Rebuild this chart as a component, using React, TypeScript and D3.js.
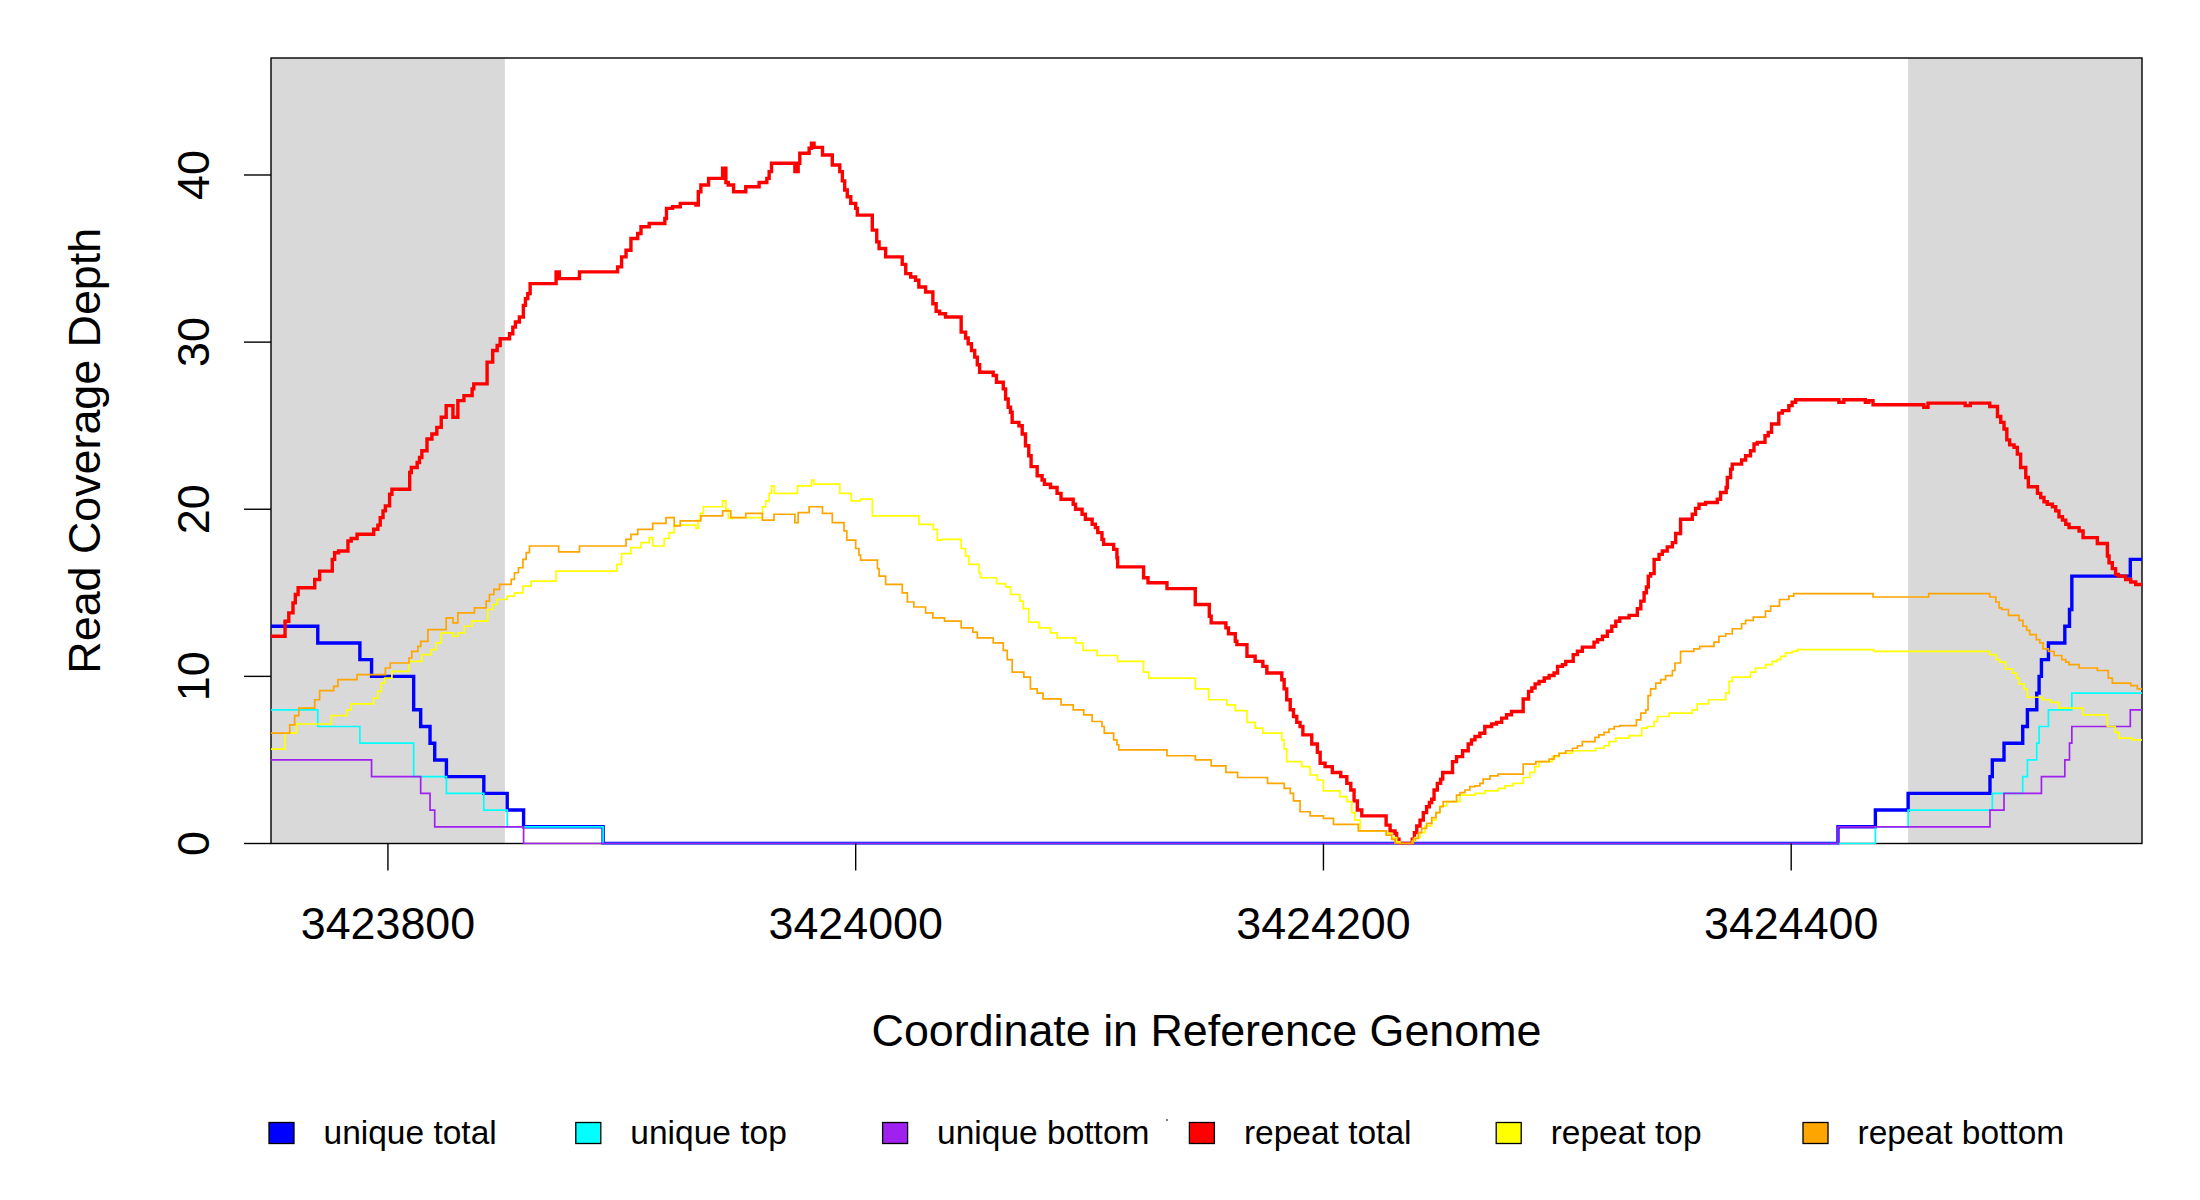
import React from "react";
import * as d3 from "d3";

// Genome window (reference coordinates)
const regionStart = 3423750;
const regionEnd = 3424550;
const shadedRegions: [number, number][] = [
  [3423750, 3423850],
  [3424450, 3424550],
];
const xTicks = [3423800, 3424000, 3424200, 3424400];
const yTicks = [0, 10, 20, 30, 40];
const yMax = 47;

// Series: [offset from regionStart, depth] (step functions)
const uniqueTotal: [number, number][] = [
  [0, 13], [20, 12], [38, 11], [43, 10], [61, 8], [64, 7], [68, 6], [70, 5], [75, 4], [91, 3], [101, 2], [108, 1], [142, 0],
  [670, 1], [686, 2], [700, 3], [735, 4], [736, 5], [741, 6], [749, 7], [751, 8], [755, 9], [756, 10], [757, 11], [760, 12],
  [767, 13], [769, 14], [770, 16], [795, 17],
];
const uniqueTop: [number, number][] = [
  [0, 8], [20, 7], [38, 6], [61, 4], [75, 3], [91, 2], [101, 1], [142, 0],
  [686, 1], [700, 2], [736, 3], [749, 4], [751, 5], [755, 6], [756, 7], [760, 8], [770, 9],
];
const uniqueBottom: [number, number][] = [
  [0, 5], [43, 4], [64, 3], [68, 2], [70, 1], [108, 0],
  [670, 1], [735, 2], [741, 3], [757, 4], [767, 5], [769, 6], [770, 7], [795, 8],
];
const repeatTotal: [number, number][] = [
  [0, 12.4], [6, 13.3], [7.6, 13.8], [9.4, 14.4], [10.4, 14.9], [11.6, 15.3], [18.7, 15.8], [20.8, 16.3], [26.2, 17], [27.2, 17.4],
  [28.9, 17.5], [32.9, 18.1], [34.3, 18.25], [36.8, 18.5], [43.9, 18.8], [45.7, 19.05], [46.7, 19.5], [47.9, 19.9], [48.9, 20.2],
  [50.7, 20.9], [51.7, 21.2], [59.3, 22.2], [60, 22.5], [62.5, 22.8], [63.5, 23.1], [64.5, 23.5], [66.7, 24.2], [68.8, 24.5],
  [70.9, 24.9], [72.8, 25.5], [74.9, 26.2], [77.8, 25.5], [79.9, 26.5], [82.5, 26.8], [86, 27.2], [86.7, 27.5], [92.4, 28.8],
  [94.8, 29.5], [96.7, 29.8], [98, 30.2], [102, 30.5], [103.4, 30.9], [104.5, 31.2], [106.2, 31.5], [107.9, 32.2], [108.8, 32.6],
  [109.8, 32.9], [110.8, 33.5], [121.9, 34.2], [123.3, 33.8], [131.9, 34.2], [148.2, 34.5], [149.9, 35.1], [151.8, 35.5],
  [153.9, 36.2], [156.8, 36.5], [158.2, 36.9], [161.7, 37.1], [168.4, 37.4], [169.1, 38], [171.7, 38.1], [175, 38.3], [181.7, 38.2],
  [182.7, 39], [183.8, 39.4], [187.1, 39.8], [193.1, 40.4], [194.5, 39.55], [195.5, 39.4], [197.8, 39], [203, 39.3], [208.7, 39.55],
  [212, 39.8], [213, 40.2], [214, 40.7], [224, 40.2], [225.4, 40.7], [226.1, 41.3], [230.1, 41.6], [231.1, 41.9], [232.2, 41.65],
  [235.8, 41.2], [240, 40.6], [243.2, 40.2], [244.3, 39.65], [245.3, 39.1], [246.4, 38.7], [247.9, 38.3], [250, 38], [250.7, 37.6],
  [257.1, 36.7], [259, 36], [260, 35.6], [262.8, 35.1], [269.9, 34.65], [271.4, 34.1], [273.5, 33.9], [275.6, 33.7], [277, 33.3],
  [279.9, 33], [283, 32.3], [284.4, 31.85], [285.9, 31.7], [288.4, 31.5], [295.1, 30.6], [297, 30.25], [298.1, 29.9], [299.5, 29.5],
  [300.9, 29.1], [302, 28.65], [303, 28.2], [308.8, 28], [310.2, 27.6], [313.1, 27.2], [314.1, 26.6], [315.2, 26.1], [316.2, 25.8],
  [316.9, 25.2], [319.8, 25], [321.2, 24.5], [322.6, 23.8], [324, 23.2], [325, 22.55], [327.6, 22], [329.7, 21.75], [330.7, 21.5],
  [333.3, 21.3], [336.1, 20.95], [337.8, 20.6], [343, 20.3], [344, 20], [346.8, 19.7], [348.2, 19.4], [351.1, 19.1], [352.5, 18.9],
  [353.5, 18.6], [355.3, 18.2], [356, 17.9], [360.3, 17.6], [361.7, 17.1], [362, 16.55], [373.1, 15.9], [375, 15.6], [383.1, 15.25],
  [395.2, 14.3], [401.2, 13.6], [402, 13.2], [408.3, 12.9], [409.4, 12.55], [412.3, 12.1], [413, 11.9], [417.3, 11.2], [420.8, 10.9],
  [424.1, 10.6], [425.8, 10.2], [432.2, 9.8], [433.2, 9.25], [434.3, 8.6], [435.8, 8], [437.2, 7.6], [438.6, 7.25], [440, 7],
  [441.2, 6.5], [445, 5.95], [447.4, 5.45], [448.6, 4.8], [450.7, 4.6], [453.8, 4.25], [457.4, 4], [460, 3.6], [461.7, 3.2],
  [463.1, 2.55], [464.5, 2], [466.4, 1.65], [476.8, 1.1], [478.5, 0.75], [480.6, 0.6], [481.3, 0.25], [482.3, 0], [488, 0.25],
  [488.9, 0.65], [489.9, 1.05], [491.3, 1.4], [492.7, 1.85], [494.1, 2.2], [495.3, 2.45], [496.3, 2.65], [497.3, 3.2], [498.7, 3.6],
  [500.1, 3.85], [501, 4.25], [505.2, 4.9], [506.9, 5.2], [509.5, 5.55], [511.9, 5.95], [513.3, 6.2], [514.8, 6.4], [516.9, 6.6],
  [519, 7], [521.9, 7.15], [524, 7.25], [526.2, 7.5], [528.3, 7.7], [530.4, 7.9], [535.4, 8.65], [537.7, 9.1], [539.1, 9.3],
  [540.5, 9.55], [542.2, 9.7], [544.4, 9.9], [546.5, 10.05], [548.6, 10.2], [550.1, 10.6], [552.2, 10.7], [553.6, 10.9],
  [556.8, 11.3], [558.6, 11.5], [560.7, 11.75], [565.7, 12.05], [567.2, 12.2], [569.3, 12.4], [571.4, 12.7], [573.3, 13],
  [575, 13.3], [576.7, 13.5], [580.7, 13.65], [584.2, 14.05], [585.7, 14.5], [587.1, 15], [588.1, 15.35], [588.9, 16],
  [589.9, 16.15], [591.4, 17], [593.5, 17.3], [594.9, 17.5], [597, 17.75], [599.2, 18], [600.6, 18.55], [602.7, 19.4],
  [607.7, 19.7], [609.1, 20.05], [610.6, 20.3], [613.4, 20.4], [618.4, 20.6], [619.8, 21], [622.2, 21.3], [622.7, 21.9],
  [624.1, 22.4], [624.8, 22.7], [628.8, 22.95], [630.5, 23.2], [632.6, 23.5], [634.1, 23.9], [635.5, 24], [638.8, 24.4],
  [640.2, 24.6], [641.6, 25.1], [644.7, 25.75], [646.2, 25.9], [649, 26.2], [650.4, 26.4], [651.9, 26.55], [670.4, 26.4],
  [672.5, 26.55], [681.7, 26.4], [683.2, 26.5], [685, 26.25], [706.7, 26.1], [708.5, 26.35], [724.4, 26.2], [726.6, 26.35],
  [734.9, 26.15], [738.2, 25.55], [739.6, 25.2], [741, 24.8], [742.2, 24.15], [743.4, 23.85], [745.3, 23.7], [746.7, 23.3],
  [748.1, 22.5], [750.3, 21.9], [751.4, 21.35], [755.3, 20.95], [756.7, 20.7], [758.1, 20.45], [759.5, 20.3], [761.7, 20.15],
  [763.1, 19.9], [764.5, 19.55], [766, 19.35], [767.4, 19.1], [768.8, 18.9], [773.1, 18.7], [774.8, 18.3], [780.9, 17.95],
  [785.2, 17.2], [785.9, 16.8], [787.3, 16.45], [788.7, 16.1], [789.9, 16], [793, 15.8], [795.2, 15.65], [797.3, 15.5],
];
const repeatTop: [number, number][] = [
  [0, 5.65], [5.9, 6.6], [10.9, 7.15], [25.8, 7.65], [32.5, 8], [34.3, 8.35], [43.9, 8.7], [45.7, 9.1], [47.2, 9.6], [48.6, 9.9],
  [51.7, 10.3], [59, 10.9], [64.5, 11.3], [68.5, 11.6], [70.6, 12], [72.8, 12.6], [77.8, 12.4], [79.9, 12.6], [82.7, 13], [86, 13.3],
  [92.7, 14], [94.8, 14.3], [96.7, 14.6], [101, 14.8], [104.1, 15], [107.7, 15.4], [111.2, 15.7], [121.9, 16.3], [147.9, 16.7],
  [149.9, 17.35], [153.9, 17.7], [158.2, 18], [161.7, 18.3], [163.2, 17.8], [168.1, 18.25], [170.3, 18.6], [172.4, 19.05],
  [181.7, 18.85], [182.7, 19.35], [183.5, 19.75], [184.9, 20.15], [193.1, 20.5], [194.5, 20], [195.5, 19.45], [197.3, 19.5],
  [210.1, 20.15], [211.6, 20.5], [213, 20.95], [214, 21.4], [215.2, 20.95], [225.1, 21.4], [231.1, 21.75], [232.2, 21.5],
  [243.2, 20.95], [248.1, 20.5], [252.1, 20.6], [257.1, 19.6], [277, 19.1], [283.2, 18.8], [284.9, 18.15], [287, 18.2],
  [295.1, 17.65], [297, 17.2], [298.4, 16.7], [302.7, 16.2], [303.4, 15.9], [310.2, 15.55], [314.1, 15.35], [316.2, 14.9],
  [320.2, 14.5], [321.6, 14.05], [324, 13.25], [328.3, 12.9], [333.3, 12.6], [336.1, 12.3], [344, 12], [347.2, 11.55],
  [353.2, 11.25], [362, 10.9], [373.1, 10.25], [375.3, 9.9], [395.2, 9.25], [400.9, 8.6], [408.7, 8.3], [412.3, 7.95],
  [417.3, 7.25], [420.8, 6.9], [424.1, 6.6], [432.2, 6.2], [433.2, 5.65], [434.3, 4.9], [440.7, 4.6], [444.3, 4.1], [447.4, 3.8],
  [450, 3.15], [457.1, 2.8], [460, 2.5], [462.1, 1.85], [463.5, 1.4], [465.7, 0.75], [477, 0.6], [479.2, 0.35], [481.3, 0.1],
  [482.7, 0], [488, 0.15], [489.1, 0.35], [491.3, 0.65], [493.4, 1.05], [496.3, 1.4], [498.1, 1.85], [499.8, 2.25], [502.7, 2.5],
  [508.4, 2.9], [514.8, 3], [519, 3.15], [524.7, 3.3], [527.6, 3.45], [531.1, 3.6], [535.4, 3.95], [538.3, 4.25], [540.4, 4.6],
  [542.2, 4.9], [547.9, 5.2], [550.8, 5.4], [556.5, 5.55], [566.4, 5.7], [570, 5.85], [572.1, 6.1], [575, 6.3], [580.7, 6.45],
  [586.1, 6.9], [588.5, 7], [591.4, 7.3], [592.8, 7.6], [597.8, 7.8], [607.7, 8], [609.8, 8.35], [614.6, 8.6], [622, 9],
  [623.4, 9.7], [624.8, 9.95], [632.6, 10.25], [634.8, 10.5], [639, 10.7], [641.9, 10.9], [644, 11], [645.4, 11.2], [647.6, 11.4],
  [650.4, 11.5], [652.6, 11.6], [685.3, 11.5], [734.9, 11.3], [737.7, 11], [739.2, 10.85], [741.7, 10.45], [744.6, 10.2],
  [746.3, 9.9], [747.4, 9.55], [749.6, 9.25], [751, 8.75], [757.4, 8.6], [761, 8.45], [764.5, 8.1], [774.8, 7.7], [785.2, 7],
  [788.5, 6.65], [790.2, 6.3], [795.9, 6.2],
];
const repeatBottom: [number, number][] = [
  [0, 6.6], [8, 7.1], [10.1, 7.65], [11.9, 8.1], [18.7, 8.6], [20.8, 9.15], [26.8, 9.4], [28.6, 9.8], [36.8, 10.1], [48.9, 10.5],
  [51, 10.8], [59, 11.1], [60.2, 11.5], [62.8, 11.8], [64, 12.1], [67.1, 12.8], [74.9, 13.5], [77.8, 13.2], [79.9, 13.8], [87, 14.1],
  [92, 14.5], [93.4, 14.9], [95.3, 15.2], [97.7, 15.5], [102.7, 15.8], [104.1, 16.2], [105.8, 16.5], [107.7, 17], [109.1, 17.4],
  [110.5, 17.8], [123, 17.45], [131.9, 17.8], [151.8, 18.2], [153.9, 18.5], [156.8, 18.8], [163.2, 19.15], [168.9, 19.5],
  [172.4, 19], [175, 19.3], [183.8, 19.6], [193.1, 19.9], [196.6, 19.5], [203, 19.75], [210.1, 19.35], [215.1, 19.7], [224, 19.2],
  [225.4, 19.8], [230.1, 20.15], [235.8, 19.75], [240, 19.2], [245, 18.7], [246.2, 18.15], [250, 17.65], [251.4, 17.25],
  [252.1, 16.95], [259.3, 16.45], [260, 16], [262.8, 15.5], [269.9, 15], [272.1, 14.45], [274.9, 14.15], [279.9, 13.8], [283, 13.5],
  [288, 13.3], [295.1, 12.9], [300.1, 12.65], [302, 12.3], [308.8, 12], [313.1, 11.55], [314.8, 11], [316.9, 10.25], [321.9, 9.95],
  [324.7, 9.25], [327.6, 9], [330.1, 8.65], [337.8, 8.3], [343, 8], [347.5, 7.7], [351.1, 7.3], [355.3, 7], [356.3, 6.6],
  [360.3, 6.2], [361.7, 5.9], [362.5, 5.6], [383.1, 5.25], [395.2, 5], [402, 4.65], [408.3, 4.25], [413.3, 3.95], [426.1, 3.6],
  [433.2, 3.3], [435.8, 3], [437.2, 2.55], [440, 1.9], [444.3, 1.65], [450, 1.5], [454.3, 1.15], [464.9, 0.75], [476.8, 0.5],
  [479.2, 0.25], [480.6, 0], [488.4, 0.3], [490.6, 0.65], [492, 0.9], [494.1, 1.2], [496.3, 1.55], [498.1, 1.85], [499.8, 2.2],
  [501.2, 2.5], [506.9, 2.9], [508.4, 3.05], [510.5, 3.2], [512.6, 3.4], [514.8, 3.45], [516.9, 3.6], [518.3, 3.85], [521.2, 4.05],
  [524.7, 4.15], [535.4, 4.75], [540.8, 4.9], [546.5, 5.05], [548.6, 5.25], [550.8, 5.4], [553.6, 5.55], [556.5, 5.7], [558.6, 5.85],
  [560.7, 6.1], [566.1, 6.35], [567.8, 6.5], [570, 6.65], [572.1, 6.85], [574.3, 7], [576.7, 7.05], [583.8, 7.4], [585.7, 7.8],
  [587.8, 8], [588.8, 8.85], [589.9, 9.25], [592.1, 9.6], [594.2, 9.8], [596.3, 10.05], [599.2, 10.35], [600.3, 10.8],
  [602.7, 11.5], [608.4, 11.65], [610.9, 11.8], [617, 12.05], [619.1, 12.4], [622, 12.55], [624.8, 12.85], [628.8, 13.15],
  [630.5, 13.35], [633.8, 13.55], [639, 13.9], [641.2, 14.2], [645, 14.6], [649, 14.8], [651.1, 14.95], [685, 14.75],
  [708.8, 14.95], [734.9, 14.75], [737.5, 14.45], [738.9, 14.1], [740, 14], [742.9, 13.65], [747.4, 13.35], [749.1, 13],
  [750.7, 12.75], [752, 12.5], [754.8, 12.2], [756.3, 12], [757.7, 11.65], [760, 11.5], [762.4, 11.25], [765.7, 11],
  [767.4, 10.85], [768.8, 10.7], [773.1, 10.5], [780.9, 10.35], [785.6, 9.9], [787.3, 9.6], [795.2, 9.45], [798, 9.25],
];

const seriesNames = ["unique total", "unique top", "unique bottom", "repeat total", "repeat top", "repeat bottom"];
const seriesColors = ["#0000FF", "#00FFFF", "#A020F0", "#FF0000", "#FFFF00", "#FFA500"];
const seriesData = [uniqueTotal, uniqueTop, uniqueBottom, repeatTotal, repeatTop, repeatBottom];
const seriesWidths = [3.4, 1.7, 1.7, 3.4, 1.7, 1.7];

const W = 2200;
const H = 1200;
const plotL = 271;
const plotR = 2142;
const plotT = 58;
const plotB = 843.5;
const FONT = "'Liberation Sans', Arial, Helvetica, sans-serif";
const AXIS_FONT = 44.8;

export default function App() {
  const x = d3.scaleLinear().domain([regionStart, regionEnd]).range([plotL, plotR]);
  const y = d3.scaleLinear().domain([0, yMax]).range([plotB, plotT]);
  const line = d3
    .line<[number, number]>()
    .x((d) => x(regionStart + d[0]))
    .y((d) => y(d[1]))
    .curve(d3.curveStepAfter);

  const withEnd = (s: [number, number][]): [number, number][] => [
    ...s,
    [regionEnd - regionStart, s[s.length - 1][1]],
  ];

  const legendX0 = 269;
  const legendStep = 306.8;

  return (
    <svg
      width={W}
      height={H}
      viewBox={`0 0 ${W} ${H}`}
      style={{ position: "absolute", left: 0, top: 0, background: "#fff" }}
      fontFamily={FONT}
    >
      <rect x={0} y={0} width={W} height={H} fill="#fff" />
      <defs>
        <clipPath id="plotClip">
          <rect x={plotL} y={plotT} width={plotR - plotL} height={plotB - plotT + 1} />
        </clipPath>
      </defs>
      {shadedRegions.map(([a, b], i) => (
        <rect key={i} x={x(a)} y={plotT} width={x(b) - x(a)} height={plotB - plotT} fill="#D9D9D9" />
      ))}
      <rect x={plotL} y={plotT} width={plotR - plotL} height={plotB - plotT} fill="none" stroke="#000" strokeWidth={1.4} />
      <g clipPath="url(#plotClip)">
        {seriesData.map((s, i) => (
          <path
            key={i}
            d={line(withEnd(s)) || ""}
            fill="none"
            stroke={seriesColors[i]}
            strokeWidth={seriesWidths[i]}
            strokeLinejoin="miter"
            strokeLinecap="butt"
          />
        ))}
      </g>
      {/* x axis */}
      {xTicks.map((t) => (
        <g key={t}>
          <line x1={x(t)} x2={x(t)} y1={plotB} y2={plotB + 27} stroke="#000" strokeWidth={1.4} />
          <text x={x(t)} y={938.5} fontSize={AXIS_FONT} textAnchor="middle" fill="#000">
            {t}
          </text>
        </g>
      ))}
      {/* y axis */}
      {yTicks.map((t) => (
        <g key={t}>
          <line x1={plotL - 27} x2={plotL} y1={y(t)} y2={y(t)} stroke="#000" strokeWidth={1.4} />
          <text
            transform={`translate(209, ${y(t)}) rotate(-90)`}
            fontSize={AXIS_FONT}
            textAnchor="middle"
            fill="#000"
          >
            {t}
          </text>
        </g>
      ))}
      <text x={(plotL + plotR) / 2} y={1046} fontSize={AXIS_FONT} textAnchor="middle" fill="#000">
        Coordinate in Reference Genome
      </text>
      <text
        transform={`translate(100, ${(plotT + plotB) / 2}) rotate(-90)`}
        fontSize={AXIS_FONT}
        textAnchor="middle"
        fill="#000"
      >
        Read Coverage Depth
      </text>
      {/* legend */}
      {seriesNames.map((n, i) => {
        const lx = legendX0 + i * legendStep;
        return (
          <g key={n}>
            <rect x={lx} y={1122.5} width={25} height={21} fill={seriesColors[i]} stroke="#000" strokeWidth={1.3} />
            <text x={lx + 54.5} y={1143.5} fontSize={33.5} fill="#000">
              {n}
            </text>
          </g>
        );
      })}
      <circle cx={1167} cy={1120} r={1} fill="#555" />
    </svg>
  );
}
